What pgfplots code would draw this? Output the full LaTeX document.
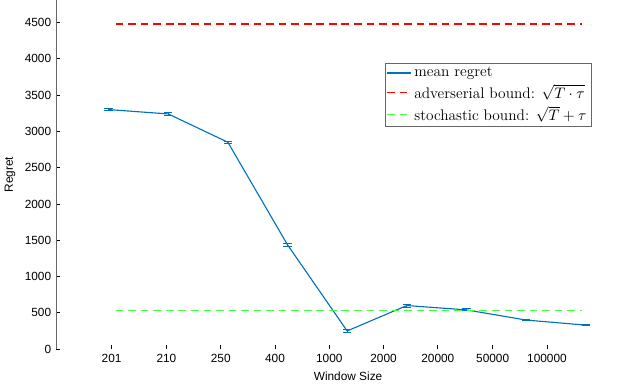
\documentclass[border=0pt]{standalone}
\usepackage{fontspec}
\setsansfont{Liberation Sans}
\usepackage{pgfplots}
\pgfplotsset{compat=1.18}
\definecolor{mblue}{rgb}{0,0.447,0.741}
\definecolor{bgreen}{rgb}{0.25,1,0.25}
\definecolor{bred}{rgb}{1,0,0}
\definecolor{axgray}{rgb}{0.4,0.4,0.4}
\begin{document}
\begin{tikzpicture}
\begin{axis}[scale only axis, width=419pt, height=250.5pt,
  xmin=-0.88, xmax=8.91, ymin=0, ymax=4810,
  axis line style={draw=none},
  xtick pos=left, ytick pos=left,
  tick align=inside, major tick length=3pt,
  tick style={black, line width=0.6pt},
  xtick={0.05,0.97,1.88,2.79,3.70,4.61,5.52,6.44,7.35},
  xticklabels={201,210,250,400,1000,2000,20000,50000,100000},
  ytick={0,500,...,4500},
  scaled y ticks=false,
  /pgf/number format/assume math mode=true,
  /pgf/number format/1000 sep={},
  ticklabel style={font=\sffamily\fontsize{8.5}{10}\selectfont},
  xlabel={Window Size}, ylabel={Regret},
  label style={font=\sffamily\fontsize{8.5}{10}\selectfont},
  legend style={at={(0.563,0.82)}, anchor=north west, draw=axgray,
    font=\rmfamily\fontsize{11}{13}\selectfont, inner sep=1pt, row sep=0pt},
  legend cell align=left,
]
\draw[axgray, line width=1pt] (rel axis cs:0,0) -- (rel axis cs:0,1);
\addplot[color=mblue, line width=0.8pt,
  error bars/.cd, y dir=both, y explicit,
  error bar style={color=mblue, line width=0.7pt},
  error mark options={rotate=90, mark size=3pt, color=mblue, line width=0.7pt}]
  coordinates {
  (0,3300) +- (0,10)
  (1,3240) +- (0,15)
  (2,2850) +- (0,15)
  (3,1437) +- (0,20)
  (4,250) +- (0,25)
  (5,600) +- (0,20)
  (6,540) +- (0,15)
  (7,400) +- (0,12)
  (8,330) +- (0,10)
};
\addlegendentry{mean regret}
\addplot[color=bred, line width=0.9pt, dash pattern=on 5.5pt off 3.5pt]
  coordinates {(0.12,4480) (7.93,4480)};
\addlegendentry{adverserial bound: $\sqrt{T\cdot\tau}$}
\addplot[color=bgreen, line width=0.9pt, dash pattern=on 5.5pt off 3.5pt]
  coordinates {(0.12,530) (7.93,530)};
\addlegendentry{stochastic bound: $\sqrt{T}+\tau$}
\end{axis}
\end{tikzpicture}
\end{document}
